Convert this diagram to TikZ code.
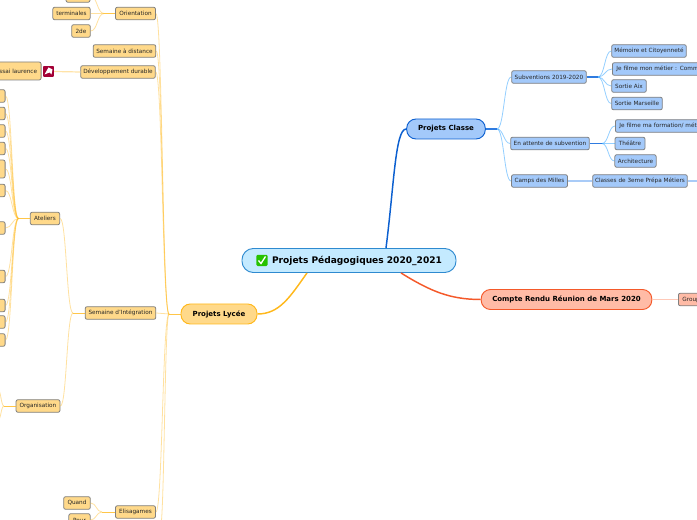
\documentclass[tikz,border=0pt]{standalone}
\usepackage{fontspec}
\setmainfont{DejaVu Sans}
\usetikzlibrary{calc}
\definecolor{lyceeFill}{HTML}{FFD98A}
\definecolor{lyceeLine}{HTML}{FFB81C}
\definecolor{lyceeSoft}{HTML}{FFE3A8}
\definecolor{classeFill}{HTML}{A3C9FA}
\definecolor{classeLine}{HTML}{0B5FD0}
\definecolor{classeStem}{HTML}{2F7BE0}
\definecolor{classeSoft}{HTML}{A9CBF7}
\definecolor{marsFill}{HTML}{FFBBA6}
\definecolor{marsLine}{HTML}{F4592A}
\definecolor{marsSoft}{HTML}{FFC9B8}
\definecolor{rootFill}{HTML}{C4EAFF}
\definecolor{rootLine}{HTML}{2E8AD0}
\tikzset{
  leaf/.style={draw=black!50, line width=0.6pt, rounded corners=1.5pt, font=\fontsize{4.3}{5}\selectfont, inner sep=0pt, minimum height=9.5pt, text=black!85},
  topic/.style={rounded corners=7pt, line width=0.7pt, font=\fontsize{5.25}{6}\selectfont\bfseries, inner sep=0pt, minimum height=15pt},
  lycee/.style={leaf, fill=lyceeFill},
  classe/.style={leaf, fill=classeFill},
  mars/.style={leaf, fill=marsFill},
  cutright/.style={anchor=west, text width=100pt, align=left, inner xsep=3pt},
  softlycee/.style={lyceeLine, draw opacity=0.42, line width=0.6pt},
  softclasse/.style={blue!45!cyan, draw opacity=0.42, line width=0.6pt},
  stemlycee/.style={lyceeLine, draw opacity=0.8, line width=0.6pt},
  stemclasse/.style={classeStem, line width=0.9pt},
}
\newcommand{\liaison}[3]{\draw[#1] (#2) .. controls ($(#2)!0.5!(#3|-#2)$) and ($(#3)!0.5!(#2|-#3)$) .. (#3);}
\begin{document}
\begin{tikzpicture}[x=0.75pt,y=-0.75pt]
\useasboundingbox (0,0) rectangle (697,520);
% centre and main topics
\node[topic, fill=rootFill, draw=rootLine, font=\fontsize{6.8}{8}\selectfont\bfseries, rounded corners=8.5pt, minimum width=160.5pt, minimum height=18pt] (root) at (349,260.5) {\hspace{12pt}Projets Pédagogiques 2020\_2021};
\node[fill=green!70!black!80!lime, rounded corners=1pt, minimum size=8.5pt, inner sep=0pt] (tick) at (262,260.5) {};
\draw[white, line width=1pt] ($(tick.center)+(-3.5,0)$) -- ($(tick.center)+(-1,3)$) -- ($(tick.center)+(3.5,-4)$);
\node[topic, fill=classeFill, draw=classeLine, minimum width=59pt] (classe) at (446,129) {Projets Classe};
\node[topic, fill=lyceeFill, draw=lyceeLine, minimum width=57pt] (lycee) at (219,314) {Projets Lycée};
\node[topic, fill=marsFill, draw=marsLine, minimum width=128pt] (mars) at (566.5,299.5) {Compte Rendu Réunion de Mars 2020};
% right side
\node[classe, minimum width=56pt] (subv) at (549,77) {Subventions 2019-2020};
\node[classe, minimum width=59pt] (attente) at (550,143.5) {En attente de subvention};
\node[classe, minimum width=42pt] (milles) at (539.5,181) {Camps des Milles};
\node[classe, minimum width=56pt] (memoire) at (649,51) {Mémoire et Citoyenneté};
\node[classe, cutright] (filme) at (612,69) {Je filme mon métier : Comme};
\node[classe, minimum width=26pt] (aix) at (629,86) {Sortie Aix};
\node[classe, minimum width=38pt] (marseille) at (637,103.5) {Sortie Marseille};
\node[classe, cutright] (formation) at (615,126) {Je filme ma formation/ métie};
\node[classe, minimum width=22.5pt] (theatre) at (630,143.5) {Théâtre};
\node[classe, minimum width=31pt] (archi) at (635.5,161) {Architecture};
\node[classe, minimum width=71pt] (classes3) at (640,181) {Classes de 3eme Prépa Métiers};
\coordinate (classesend) at (697,181);
\node[mars, cutright, text width=40pt] (groupe) at (678,299.5) {Group};
% left side, first level
\node[lycee, minimum width=30pt] (orient) at (135.5,13.5) {Orientation};
\node[lycee, minimum width=47pt] (distance) at (124.5,51) {Semaine à distance};
\node[lycee, minimum width=56pt] (durable) at (118,72) {Développement durable};
\node[lycee, minimum width=53pt] (integration) at (120.5,313) {Semaine d'Intégration};
\node[lycee, minimum width=30pt] (elisa) at (135.5,512) {Elisagames};
\coordinate (lyceeend) at (160,530);
% leaves of Orientation, Elisagames
\node[lycee, minimum width=18pt] (bac) at (78,-4) {};
\node[lycee, minimum width=28pt] (terminales) at (71.5,13.5) {terminales};
\node[lycee, minimum width=14pt] (seconde) at (81,31) {2de};
\node[lycee, minimum width=20pt] (quand) at (77,503) {Quand};
\node[lycee, minimum width=16pt] (pour) at (79.5,520) {Pour};
% durable
\node[lycee, anchor=east, text width=60pt, align=right, inner xsep=3pt, minimum height=13.5pt] (essai) at (41.5,71) {Essai laurence};
\node[fill=red!75!blue!85!black, minimum size=8pt, inner sep=0pt, rounded corners=0.5pt] (picto) at (48.5,71.5) {};
\fill[white] ($(picto.center)+(-4,3)$) -- ($(picto.center)+(0,-4)$) -- ($(picto.center)+(4,-2)$) -- ($(picto.center)+(3,3)$) -- ($(picto.center)+(1,1)$) -- cycle;
% Ateliers and Organisation
\node[lycee, minimum width=22pt] (ateliers) at (45,218.5) {Ateliers};
\node[lycee, minimum width=33pt] (orga) at (38,406) {Organisation};
\foreach \ypos/\nom in {96/a,113.5/b,131/c,148.5/d,190.5/f,228/g,276.5/h,305.5/i,322/j,340/k}
  \node[lycee, anchor=east, minimum width=10pt] (atel\nom) at (5.5,\ypos) {};
\node[lycee, anchor=east, minimum width=10pt, minimum height=13.5pt] (atele) at (5.5,169) {};
\coordinate (orgahaut) at (-2,390);
\coordinate (orgabas) at (-2,420);
% hubs
\coordinate (hubclasse) at (497,129);
\coordinate (hubsubv) at (598,77);
\coordinate (hubattente) at (602,143.5);
\coordinate (hublycee) at (169,314);
\coordinate (huborient) at (104,13.5);
\coordinate (hubelisa) at (102,512);
\coordinate (hubinteg) at (73,313);
\coordinate (hubatel) at (18.5,218.5);
\coordinate (huborga) at (4,406);
\coordinate (rootnord) at ($(root.north)+(37,0)$);
\coordinate (rootlycee) at ($(root.south)+(-42,0)$);
\coordinate (rootmars) at ($(root.south)+(52,0)$);
% main connectors
\draw[classeLine, line width=1.1pt] (rootnord) .. controls +(8,-62) and +(-11,0) .. (classe.west);
\draw[lyceeLine, line width=1.1pt] (rootlycee) .. controls +(-17,24) and +(22,0) .. (lycee.east);
\draw[marsLine, line width=1.1pt] (rootmars) .. controls +(29,18) and +(-31,0) .. (mars.west);
\draw[marsSoft, line width=0.9pt] (mars.east) -- (groupe.west);
% right side connectors
\draw[stemclasse] (classe.east) -- (hubclasse);
\draw[stemclasse] (subv.east) -- (hubsubv);
\draw[stemclasse] (attente.east) -- (hubattente);
\foreach \nom in {subv,attente,milles} {\liaison{softclasse}{hubclasse}{\nom.west}}
\foreach \nom in {memoire,filme,aix,marseille} {\liaison{softclasse}{hubsubv}{\nom.west}}
\foreach \nom in {formation,theatre,archi} {\liaison{softclasse}{hubattente}{\nom.west}}
\draw[classeSoft, line width=0.9pt] (milles.east) -- (classes3.west);
\draw[classeSoft, line width=0.9pt] (classes3.east) -- (classesend);
% left side connectors
\draw[stemlycee] (lycee.west) -- (hublycee);
\draw[stemlycee] (orient.west) -- (huborient);
\draw[stemlycee] (elisa.west) -- (hubelisa);
\draw[stemlycee] (integration.west) -- (hubinteg);
\draw[stemlycee] (ateliers.west) -- (hubatel);
\draw[stemlycee] (orga.west) -- (huborga);
\foreach \nom in {orient,distance,durable,integration,elisa} {\liaison{softlycee}{hublycee}{\nom.east}}
\liaison{softlycee}{hublycee}{lyceeend}
\foreach \nom in {bac,terminales,seconde} {\liaison{softlycee}{huborient}{\nom.east}}
\foreach \nom in {quand,pour} {\liaison{softlycee}{hubelisa}{\nom.east}}
\foreach \nom in {ateliers,orga} {\liaison{softlycee}{hubinteg}{\nom.east}}
\foreach \nom in {a,b,c,d,e,f,g,h,i,j,k} {\liaison{softlycee}{hubatel}{atel\nom.east}}
\liaison{softlycee}{huborga}{orgahaut}
\liaison{softlycee}{huborga}{orgabas}
\draw[lyceeSoft, line width=0.9pt] (durable.west) -- (picto.east);
\end{tikzpicture}
\end{document}
